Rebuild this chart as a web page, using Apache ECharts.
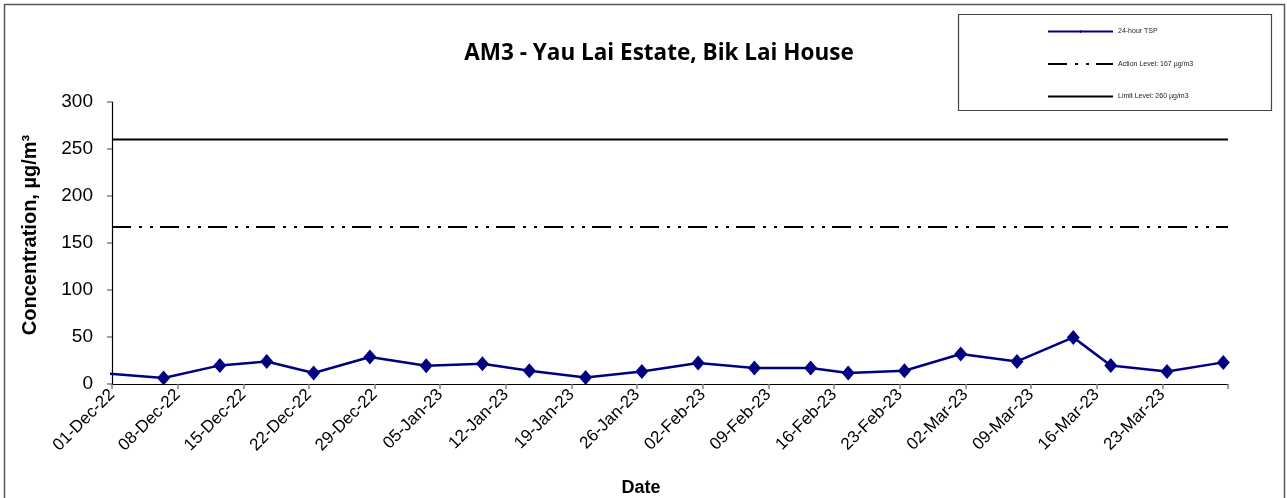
<!DOCTYPE html>
<html>
<head>
<meta charset="utf-8">
<script src="https://cdn.jsdelivr.net/npm/echarts@6/dist/echarts.min.js"></script>
<style>
html,body{margin:0;padding:0;background:#fff;}
#chart{width:1287px;height:498px;}
</style>
</head>
<body>
<div id="chart"></div>
<script>
// ---- data ----
const axisStart = '2022-12-01';
const axisEnd = '2023-03-30';
const sampleDates = ['2022-11-30','2022-12-06','2022-12-12','2022-12-17','2022-12-22','2022-12-28',
  '2023-01-03','2023-01-09','2023-01-14','2023-01-20','2023-01-26','2023-02-01','2023-02-07',
  '2023-02-13','2023-02-17','2023-02-23','2023-03-01','2023-03-07','2023-03-13','2023-03-17',
  '2023-03-23','2023-03-29'];
const tspValues = [11, 6.4, 19.8, 24, 11.7, 28.7, 19.5, 21.6, 14.1, 7, 13.4, 22.3, 17, 17, 11.7, 14.1,
  31.9, 24, 49.6, 19.8, 13.4, 23];
const actionLevel = 167;
const limitLevel = 260;
const yTicks = [0, 50, 100, 150, 200, 250, 300];
const seriesNames = ['24-hour TSP', 'Action Level: 167 µg/m3', 'Limit Level: 260 µg/m3'];
const monthNames = ['Jan','Feb','Mar','Apr','May','Jun','Jul','Aug','Sep','Oct','Nov','Dec'];

// ---- helpers ----
const DAY = 86400000;
const t0 = Date.parse(axisStart + 'T00:00:00Z');
const dayIndex = s => (Date.parse(s + 'T00:00:00Z') - t0) / DAY;
const axisMax = dayIndex(axisEnd);
function fmt(d) {
  const dt = new Date(t0 + d * DAY);
  const dd = String(dt.getUTCDate()).padStart(2, '0');
  const yy = String(dt.getUTCFullYear()).slice(2);
  return dd + '-' + monthNames[dt.getUTCMonth()] + '-' + yy;
}
// Excel date axis places points in the middle of each day
const tspData = sampleDates.map((d, i) => [dayIndex(d) + 0.5, tspValues[i]]);

const chart = echarts.init(document.getElementById('chart'));
const font = 'Liberation Sans, Arial, sans-serif';
chart.setOption({
  animation: false,
  backgroundColor: '#fff',
  title: {
    text: 'AM3 - Yau Lai Estate, Bik Lai House',
    left: 654, top: 37, textAlign: 'center',
    textStyle: { fontFamily: 'Open Sans', fontWeight: 'bold', fontSize: 22.5, color: '#000' }
  },
  graphic: [
    { type: 'rect', shape: { x: 4.5, y: 4.5, width: 1280, height: 520 }, style: { fill: 'none', stroke: '#555', lineWidth: 1.5 }, silent: true },
    { type: 'rect', shape: { x: 958.5, y: 14.5, width: 313, height: 96 }, style: { fill: 'none', stroke: '#444', lineWidth: 1.2 }, silent: true }
  ],
  legend: {
    orient: 'vertical',
    left: 1042, top: 23,
    itemWidth: 65, itemHeight: 4, itemGap: 25.5,
    textStyle: { fontFamily: font, fontSize: 7, color: '#222' },
    data: [
      { name: seriesNames[0] },
      { name: seriesNames[1], itemStyle: { opacity: 0 } },
      { name: seriesNames[2], itemStyle: { opacity: 0 } }
    ]
  },
  grid: { left: 112, right: 59, top: 102, bottom: 114, outerBoundsMode: 'none', containLabel: false },
  xAxis: {
    type: 'value',
    min: 0, max: axisMax, interval: 7,
    name: 'Date', nameLocation: 'middle', nameGap: 95,
    nameTextStyle: { fontFamily: font, fontWeight: 'bold', fontSize: 18, color: '#000', padding: [0, 58, 0, 0] },
    axisLine: { lineStyle: { color: '#000', width: 1.2 } },
    axisTick: { show: true, length: 5, lineStyle: { color: '#808080', width: 1.5 } },
    splitLine: { show: false },
    axisLabel: {
      rotate: 45, margin: 8, fontFamily: font, fontSize: 17, color: '#000',
      formatter: v => (v >= axisMax ? '' : fmt(v)),
      showMaxLabel: true
    }
  },
  yAxis: {
    type: 'value',
    min: yTicks[0], max: yTicks[yTicks.length - 1], interval: 50,
    name: 'Concentration, µg/m³', nameLocation: 'middle', nameRotate: 90, nameGap: 72,
    nameTextStyle: { fontFamily: font, fontWeight: 'bold', fontSize: 20, color: '#000', padding: [0, 0, 0, 16] },
    axisLine: { show: true, lineStyle: { color: '#000', width: 1.2 } },
    axisTick: { show: true, length: 5, lineStyle: { color: '#808080', width: 1.5 } },
    splitLine: { show: false },
    axisLabel: { margin: 19, fontFamily: font, fontSize: 19, color: '#000' }
  },
  series: [
    {
      name: seriesNames[0], type: 'line', data: tspData,
      symbol: 'diamond', symbolSize: [13, 15],
      itemStyle: { color: '#000080' },
      lineStyle: { color: '#000080', width: 2.5 },
      clip: true, z: 5
    },
    {
      name: seriesNames[1], type: 'line',
      data: [[0, actionLevel], [axisMax, actionLevel]],
      symbol: 'none', itemStyle: { color: '#000' },
      lineStyle: { color: '#000', width: 2, type: [19, 8, 3, 8, 3, 7] }
    },
    {
      name: seriesNames[2], type: 'line',
      data: [[0, limitLevel], [axisMax, limitLevel]],
      symbol: 'none', itemStyle: { color: '#000' },
      lineStyle: { color: '#000', width: 2 }
    }
  ]
});
</script>
</body>
</html>
